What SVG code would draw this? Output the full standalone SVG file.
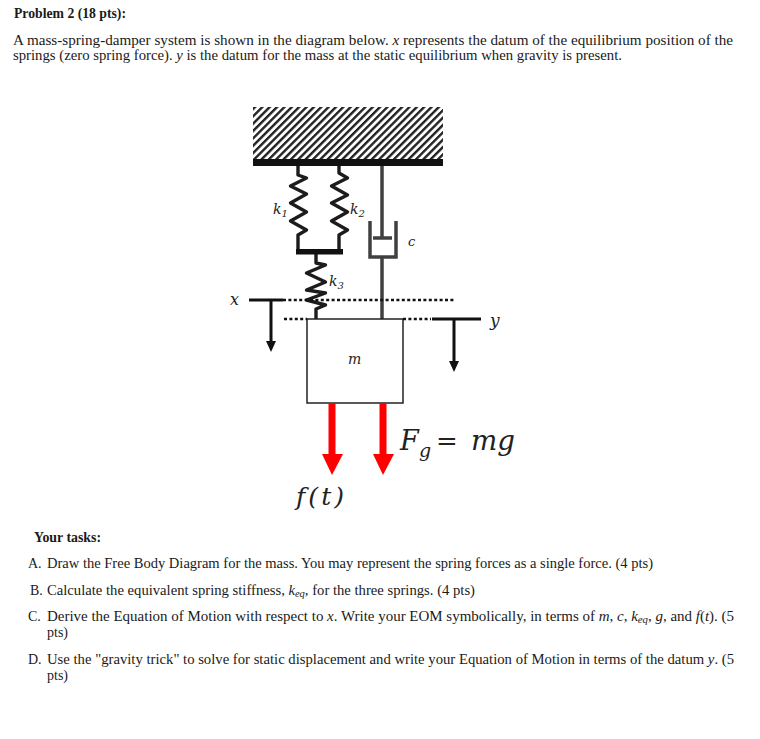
<svg xmlns="http://www.w3.org/2000/svg" width="760" height="739" viewBox="0 0 760 739">
<style>
text{font-family:"Liberation Serif",serif;fill:#1a1a1a}
.b{font-size:14px}
.h{font-size:14px;font-weight:bold}
.m{font-style:italic}
.eq{font-family:"DejaVu Serif","Liberation Serif",serif;font-style:italic;fill:#222}
.up{font-style:normal}
.sp{fill:none;stroke:#1c1c1c;stroke-width:3.4;stroke-linejoin:round}
.da{fill:none;stroke:#404040;stroke-width:3.5}
.blk{stroke:#111;stroke-width:3;fill:none}
.dot{stroke:#111;stroke-width:2.5;stroke-dasharray:3 2.4;fill:none}
.red{fill:none;stroke:#f00;stroke-width:7}
</style>
<defs>
<pattern id="hatch" width="5.2" height="5.2" patternUnits="userSpaceOnUse" patternTransform="rotate(-45)">
<rect width="5.2" height="5.2" fill="#fff"/>
<rect width="5.2" height="2.4" fill="#222"/>
</pattern>
</defs>
<rect width="760" height="739" fill="#fff"/>
<g id="problem-text">
<text class="h" x="14" y="18" textLength="112" lengthAdjust="spacingAndGlyphs">Problem 2 (18 pts):</text>
<text class="b" x="13" y="45" textLength="720" lengthAdjust="spacingAndGlyphs">A mass-spring-damper system is shown in the diagram below. <tspan class="m">x</tspan> represents the datum of the equilibrium position of the</text>
<text class="b" x="13" y="60" textLength="609" lengthAdjust="spacingAndGlyphs">springs (zero spring force). <tspan class="m">y</tspan> is the datum for the mass at the static equilibrium when gravity is present.</text>
</g>
<g id="ground">
<rect x="253" y="107" width="190" height="52" fill="url(#hatch)"/>
<rect x="253" y="159" width="190" height="7" fill="#111"/>
</g>
<g id="connectors">
<path class="sp" d="M298 166V175L306.500 178 290.500 186 306.500 194 290.500 203 306.500 212 290.500 221 306.500 230 298 235V250"/>
<path class="sp" d="M339 166V173L347.500 178 331.500 186 347.500 195 331.500 203 347.500 212 331.500 221 347.500 230 339 235V250"/>
<path class="sp" d="M316 254V263L325.500 265 306.500 273 325.500 282 306.500 290 325.500 293 306.500 300 325.500 305 316 309V319"/>
<path class="da" d="M382 166V237M382 257V319"/>
</g>
<g id="bar"><rect x="296" y="249" width="47" height="5.5" fill="#111"/></g>
<g id="damper">
<path class="da" d="M370 221V257H396V221"/>
<path d="M373 238H392" stroke="#404040" stroke-width="3.5"/>
</g>
<g id="mass">
<rect x="307" y="319" width="96" height="84" fill="#fff" stroke="#222" stroke-width="1.5"/>
<text class="eq" x="348" y="364" font-size="14">m</text>
</g>
<g id="datum-x">
<path class="blk" d="M249 300H283M271 300V342"/>
<path d="M266 341H276L271 352Z" fill="#111"/>
<path class="dot" d="M283 300H455"/>
<text class="eq" x="230" y="305" font-size="16">x</text>
</g>
<g id="datum-y">
<path class="dot" d="M284 319H307M403 319H431"/>
<path class="blk" d="M432 319H481M454 319V362"/>
<path d="M449 361H459L454 372Z" fill="#111"/>
<text class="eq" x="490" y="326" font-size="17">y</text>
</g>
<g id="force-f">
<path class="red" d="M332 403V455"/>
<path d="M322 454H343L332 475Z" fill="#f00"/>
<text class="eq" x="296" y="505" font-size="25" textLength="48">f(t)</text>
</g>
<g id="force-g">
<path class="red" d="M383 403V455"/>
<path d="M373 454H394L383 475Z" fill="#f00"/>
<text class="eq" x="400" y="450" font-size="27">F</text>
<text class="eq" x="419" y="457" font-size="19">g</text>
<text class="eq up" x="436" y="450" font-size="26">=</text>
<text class="eq" x="471" y="450" font-size="28" textLength="44" lengthAdjust="spacingAndGlyphs">mg</text>
</g>
<g id="spring-labels">
<text class="eq" x="273" y="214" font-size="14">k<tspan font-size="10" dy="3">1</tspan></text>
<text class="eq" x="350" y="214" font-size="14">k<tspan font-size="10" dy="3">2</tspan></text>
<text class="eq" x="329" y="286" font-size="14">k<tspan font-size="10" dy="3">3</tspan></text>
<text class="eq" x="408" y="246" font-size="13">c</text>
</g>
<g id="tasks">
<text class="h" x="34" y="542" textLength="67" lengthAdjust="spacingAndGlyphs">Your tasks:</text>
<text class="b" x="28" y="568">A.</text>
<text class="b" x="47" y="568" textLength="606" lengthAdjust="spacingAndGlyphs">Draw the Free Body Diagram for the mass. You may represent the spring forces as a single force. (4 pts)</text>
<text class="b" x="30" y="595">B.</text>
<text class="b" x="47" y="595" textLength="428" lengthAdjust="spacingAndGlyphs">Calculate the equivalent spring stiffness, <tspan class="m">k<tspan font-size="10" dy="2">eq</tspan></tspan><tspan dy="-2">,</tspan> for the three springs. (4 pts)</text>
<text class="b" x="28" y="621">C.</text>
<text class="b" x="47" y="621" textLength="687" lengthAdjust="spacingAndGlyphs">Derive the Equation of Motion with respect to <tspan class="m">x</tspan>. Write your EOM symbolically, in terms of <tspan class="m">m</tspan>, <tspan class="m">c</tspan>, <tspan class="m">k<tspan font-size="10" dy="2">eq</tspan></tspan><tspan dy="-2">,</tspan> <tspan class="m">g</tspan>, and <tspan class="m">f</tspan>(<tspan class="m">t</tspan>). (5</text>
<text class="b" x="47" y="637">pts)</text>
<text class="b" x="28" y="664">D.</text>
<text class="b" x="47" y="664" textLength="687" lengthAdjust="spacingAndGlyphs">Use the "gravity trick" to solve for static displacement and write your Equation of Motion in terms of the datum <tspan class="m">y</tspan>. (5</text>
<text class="b" x="47" y="680">pts)</text>
</g>
</svg>
